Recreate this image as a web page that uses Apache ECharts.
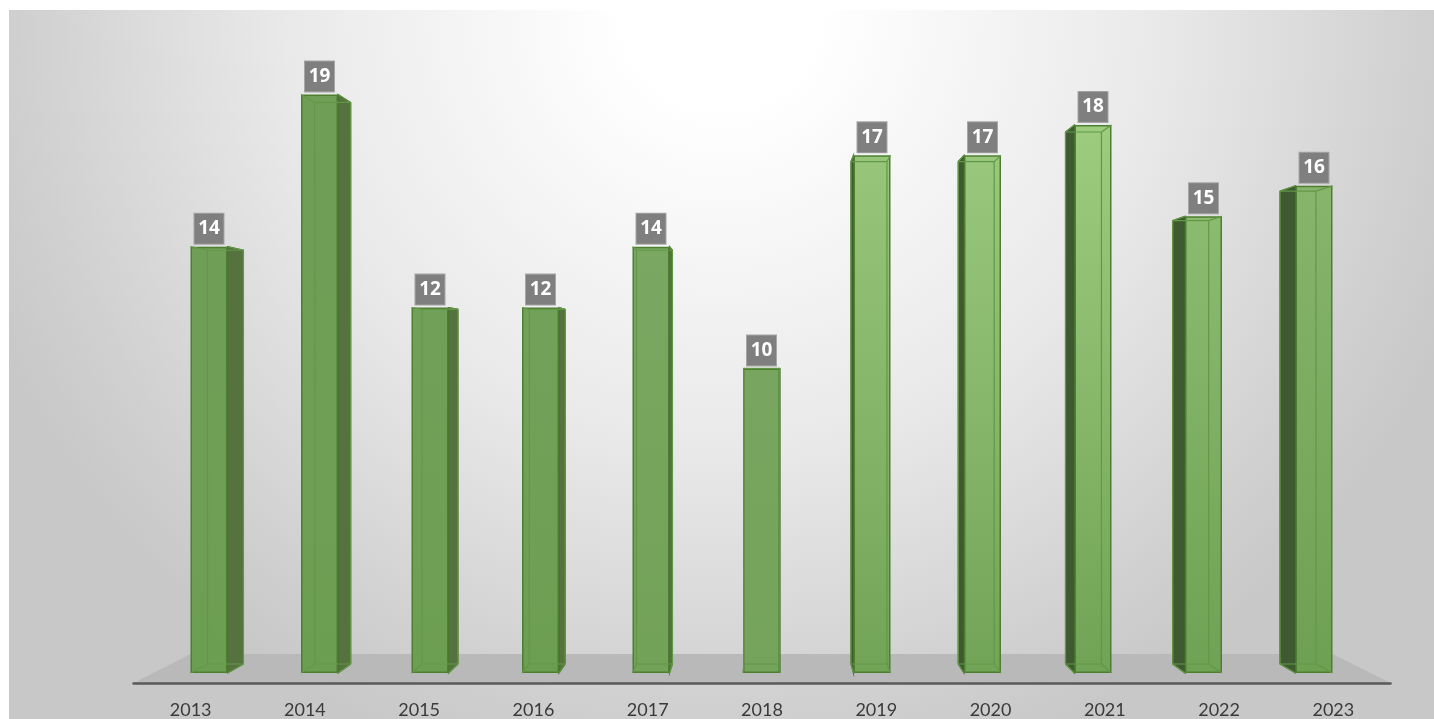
<!DOCTYPE html>
<html>
<head>
<meta charset="utf-8">
<title>Yearly counts 2013-2023</title>
<script src="https://cdn.jsdelivr.net/npm/echarts@6/dist/echarts.min.js"></script>
<style>
  html, body { margin: 0; padding: 0; background: #fff; overflow: hidden; }
  #chart { width: 1434px; height: 719px; }
</style>
</head>
<body>
<div id="chart"></div>
<script>
const years = ['2013', '2014', '2015', '2016', '2017', '2018', '2019', '2020', '2021', '2022', '2023'];
const counts = [14, 19, 12, 12, 14, 10, 17, 17, 18, 15, 16];
// front face lighting, one per year (top of the bar -> bottom of the bar)
const faceTop = ['#6f9f57', '#6f9f57', '#71a159', '#72a25a', '#7aa862', '#78a660', '#97c67a', '#99c87c', '#9ecc7f', '#8bbb6f', '#86b56b'];
const faceBottom = ['#6c9e52', '#6c9e52', '#6c9e52', '#6c9e52', '#72a158', '#74a35b', '#72a457', '#72a457', '#70a355', '#6fa254', '#6ea053'];

const BAR_W = 37;
const EDGE = '#4d7f31';
// perspective of the box: back face is the front face shrunk toward this point
const VP = { x: 769, y: 367 };
const DEPTH = 0.9706;
const back = (p) => [VP.x + DEPTH * (p[0] - VP.x), VP.y + DEPTH * (p[1] - VP.y)];

function corners(api) {
  const base = api.coord([api.value(0), 0]);
  const top = api.coord([api.value(0), api.value(1)]);
  const l = base[0] - BAR_W / 2, r = base[0] + BAR_W / 2;
  return { cx: base[0], fTL: [l, top[1]], fTR: [r, top[1]], fBL: [l, base[1]], fBR: [r, base[1]] };
}

// side panel behind the front face
function renderSide(params, api) {
  const c = corners(api);
  const onRight = c.cx > VP.x;
  const points = onRight
    ? [c.fTL, back(c.fTL), back(c.fBL), c.fBL]
    : [c.fTR, back(c.fTR), back(c.fBR), c.fBR];
  return {
    type: 'polygon', shape: { points },
    style: { fill: onRight ? '#3f5a30' : '#56733f', stroke: onRight ? '#3c6a24' : '#44702a', lineWidth: 1.2 }
  };
}

// back edges seen through the glassy front face
function renderEdges(params, api) {
  const c = corners(api);
  const bTL = back(c.fTL), bTR = back(c.fTR), bBL = back(c.fBL), bBR = back(c.fBR);
  const line = (a, b) => ({
    type: 'line', shape: { x1: a[0], y1: a[1], x2: b[0], y2: b[1] },
    style: { stroke: '#639748', lineWidth: 1.2 }
  });
  return {
    type: 'group',
    children: [
      line(bTL, bTR), line(bBL, bBR),
      line(bTL, bBL), line(bTR, bBR),
      line(c.fTL, bTL), line(c.fTR, bTR), line(c.fBL, bBL), line(c.fBR, bBR)
    ]
  };
}

function renderFloor(params, api) {
  const c = params.coordSys;
  const bottom = c.y + c.height;
  return {
    type: 'polygon',
    shape: { points: [[c.x, bottom], [c.x + c.width, bottom], [c.x + c.width - 58, bottom - 29], [c.x + 57, bottom - 29]] },
    style: { fill: '#b9b9b9' }
  };
}

const chart = echarts.init(document.getElementById('chart'), null, { renderer: 'canvas' });
chart.setOption({
  animation: false,
  graphic: [{
    type: 'rect', z: -10, silent: true,
    shape: { x: 9, y: 10, width: 1425, height: 709 },
    style: {
      fill: new echarts.graphic.RadialGradient(0.5, 0, 1.12, [
        { offset: 0, color: '#ffffff' },
        { offset: 0.12, color: '#ffffff' },
        { offset: 0.28, color: '#f7f7f7' },
        { offset: 0.55, color: '#e9e9e9' },
        { offset: 0.88, color: '#d0d0d0' },
        { offset: 1, color: '#c8c8c8' }
      ])
    }
  }],
  grid: [
    { left: 153.75, width: 1215.5, top: 64, height: 609 },
    { left: 133.5, width: 1257, top: 64, height: 620 }
  ],
  xAxis: [
    { type: 'category', gridIndex: 0, data: years, show: false },
    {
      type: 'category', gridIndex: 1, data: years, z: 5,
      axisLine: { lineStyle: { color: '#595959', width: 2.5 } },
      axisTick: { show: false },
      axisLabel: { color: '#3a3a3a', fontSize: 18, fontFamily: 'Lato', margin: 18 }
    }
  ],
  yAxis: [
    { type: 'value', gridIndex: 0, min: 0, max: 20, show: false },
    { type: 'value', gridIndex: 1, min: 0, max: 20, show: false }
  ],
  series: [
    {
      type: 'custom', name: 'floor', xAxisIndex: 1, yAxisIndex: 1, z: 1,
      silent: true, data: [0], renderItem: renderFloor
    },
    {
      type: 'custom', name: 'side', xAxisIndex: 0, yAxisIndex: 0, z: 2,
      silent: true, encode: { x: 0, y: 1 },
      data: counts.map((v, i) => [i, v]), renderItem: renderSide
    },
    {
      type: 'bar', name: 'count', xAxisIndex: 0, yAxisIndex: 0, z: 3,
      barWidth: BAR_W,
      data: counts.map((v, i) => ({
        value: v,
        itemStyle: {
          color: new echarts.graphic.LinearGradient(0, 0, 0, 1, [
            { offset: 0, color: faceTop[i] },
            { offset: 1, color: faceBottom[i] }
          ]),
          borderColor: EDGE, borderWidth: 1.5
        }
      })),
      label: {
        show: true, position: 'top', distance: 3,
        color: '#ffffff', fontFamily: 'Open Sans', fontWeight: 'bold', fontSize: 19,
        backgroundColor: '#7f7f7f', borderColor: '#a6a6a6', borderWidth: 1,
        width: 19, height: 20, lineHeight: 20, padding: 5, align: 'center'
      }
    },
    {
      type: 'custom', name: 'edges', xAxisIndex: 0, yAxisIndex: 0, z: 4,
      silent: true, encode: { x: 0, y: 1 },
      data: counts.map((v, i) => [i, v]), renderItem: renderEdges
    }
  ]
});
</script>
</body>
</html>
